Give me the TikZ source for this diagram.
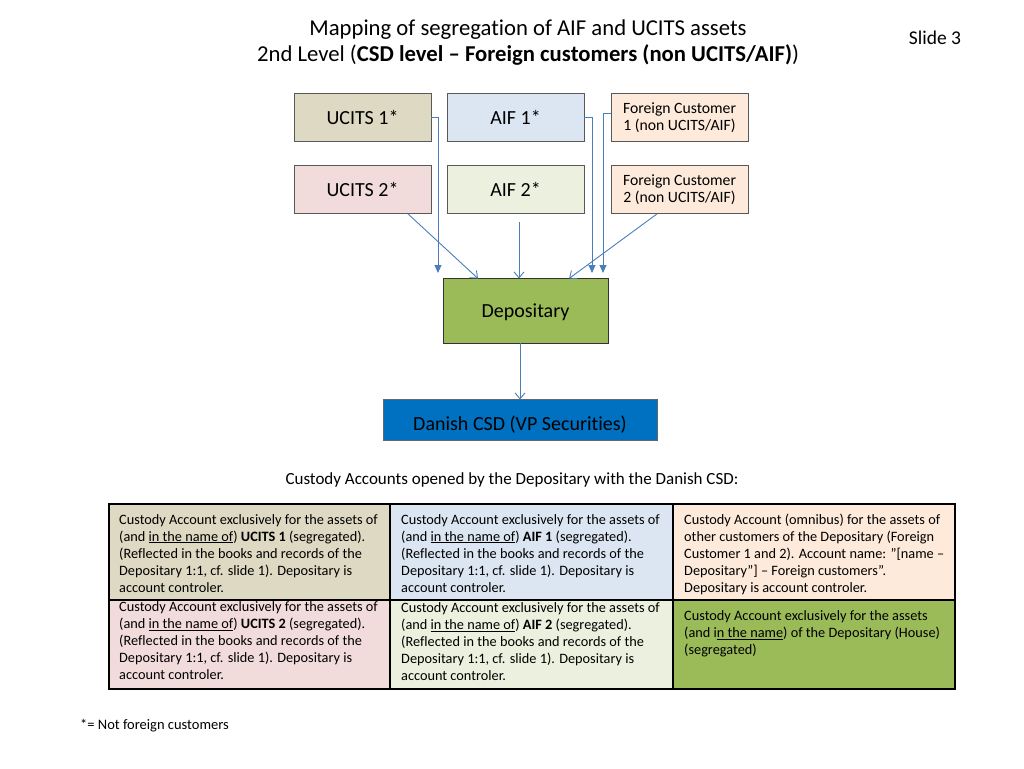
\documentclass[tikz,border=0pt]{standalone}
\usepackage{fontspec}
\setmainfont{Carlito}[Ligatures={NoCommon}]
\usetikzlibrary{arrows.meta}
\definecolor{cUa}{HTML}{DDD9C3}
\definecolor{cAa}{HTML}{DCE6F2}
\definecolor{cFc}{HTML}{FDEADA}
\definecolor{cUb}{HTML}{F2DCDB}
\definecolor{cAb}{HTML}{EBF1DE}
\definecolor{cGr}{HTML}{9BBB59}
\definecolor{cCsd}{HTML}{0070C0}
\definecolor{cLine}{HTML}{4A7EBB}
\tikzset{
  box/.style={draw=black!65, line width=0.8pt, minimum width=137pt, minimum height=48pt, inner sep=0pt, align=center, font=\fontsize{20}{22}\selectfont},
  fbox/.style={box, font=\fontsize{15.7}{16.5}\selectfont},
  conn/.style={draw=cLine, line width=0.9pt},
  filledtip/.style={conn, -{Triangle[length=8pt,width=7pt]}},
  opentip/.style={conn, -{Straight Barb[length=6pt,width=10pt]}},
  cell/.style={draw=black, line width=2.6pt},
  celltext/.style={anchor=north west, inner sep=0pt, align=left, font=\fontsize{14.3}{17}\selectfont},
}
\begin{document}
\begin{tikzpicture}[x=1pt,y=-1pt]
\useasboundingbox (0,0) rectangle (1024,768);
% title
\node[font=\fontsize{22.7}{26}\selectfont, align=center] (title) at (528,43) {Mapping of segregation of AIF and UCITS assets\\2nd Level (\textbf{CSD level -- Foreign customers (non UCITS/AIF)})};
\node[font=\fontsize{19.5}{22}\selectfont] (slide) at (935,38) {Slide 3};
% top boxes
\node[box, fill=cUa] (u1) at (362.5,117) {UCITS 1*};
\node[box, fill=cAa] (a1) at (515.5,117.5) {AIF 1*};
\node[fbox, fill=cFc] (f1) at (679.5,117.5) {Foreign Customer\\1 (non UCITS/AIF)};
\node[box, fill=cUb] (u2) at (362.5,189.5) {UCITS 2*};
\node[box, fill=cAb] (a2) at (515.5,189.5) {AIF 2*};
\node[fbox, fill=cFc] (f2) at (679.5,189.5) {Foreign Customer\\2 (non UCITS/AIF)};
\node[draw=black!80, line width=0.9pt, fill=cGr, minimum width=165pt, minimum height=65pt, inner sep=0pt, text height=14pt, text depth=0pt, font=\fontsize{20}{22}\selectfont] (dep) at (525.5,310.5) {Depositary};
\node[draw=black!60, line width=0.9pt, fill=cCsd, minimum width=274pt, minimum height=41pt, inner sep=0pt, text height=22pt, text depth=0pt, font=\fontsize{20}{22}\selectfont] (csd) at (520,419.5) {Danish CSD (VP Securities)};
% connectors
\coordinate (t1) at (438,273);
\coordinate (t2) at (592,273);
\coordinate (t3) at (603,273);
\coordinate (a2s) at (519,222);
\draw[filledtip] (u1.east) -| (t1);
\draw[filledtip] (a1.east) -| (t2);
\draw[filledtip] ([yshift=4.5pt]f1.west) -| (t3);
\draw[opentip] ([xshift=45.5pt]u2.south) -- ([xshift=-47.5pt,yshift=-1pt]dep.north);
\draw[opentip] (a2s) -- ([yshift=-1pt]dep.north -| a2s);
\draw[opentip] ([xshift=-22.5pt]f2.south) -- ([xshift=43.5pt,yshift=-1pt]dep.north);
\draw[opentip] (csd.north |- dep.south) -- ([yshift=-1pt]csd.north);
% caption
\node[font=\fontsize{17}{19}\selectfont] (cap) at (512,480) {Custody Accounts opened by the Depositary with the Danish CSD:};
% table cells
\path[cell, fill=cUa] (109,504) rectangle (390,600);
\path[cell, fill=cAa] (390,504) rectangle (673,600);
\path[cell, fill=cFc] (673,504) rectangle (955,600);
\path[cell, fill=cUb] (109,600) rectangle (390,689);
\path[cell, fill=cAb] (390,600) rectangle (673,689);
\path[cell, fill=cGr] (673,600) rectangle (955,689);
\node[celltext] (x11) at (119,514) {Custody Account exclusively for the assets of\\(and \underline{in the name of}) \textbf{UCITS 1} (segregated).\\(Reflected in the books and records of the\\Depositary 1:1, cf. slide 1). Depositary is\\account controler.};
\node[celltext] (x12) at (401,514) {Custody Account exclusively for the assets of\\(and \underline{in the name of}) \textbf{AIF 1} (segregated).\\(Reflected in the books and records of the\\Depositary 1:1, cf. slide 1). Depositary is\\account controler.};
\node[celltext] (x13) at (684,514) {Custody Account (omnibus) for the assets of\\other customers of the Depositary (Foreign\\Customer 1 and 2). Account name: ”[name --\\Depositary”] -- Foreign customers”.\\Depositary is account controler.};
\node[celltext] (x21) at (119,601.8) {Custody Account exclusively for the assets of\\(and \underline{in the name of}) \textbf{UCITS 2} (segregated).\\(Reflected in the books and records of the\\Depositary 1:1, cf. slide 1). Depositary is\\account controler.};
\node[celltext] (x22) at (401,602.8) {Custody Account exclusively for the assets of\\(and \underline{in the name of}) \textbf{AIF 2} (segregated).\\(Reflected in the books and records of the\\Depositary 1:1, cf. slide 1). Depositary is\\account controler.};
\node[celltext] (x23) at (684,610.8) {Custody Account exclusively for the assets\\(and i\underline{n the name}) of the Depositary (House)\\(segregated)};
% footnote
\node[anchor=west, inner sep=0pt, font=\fontsize{14.5}{16}\selectfont] (foot) at (80,726) {*= Not foreign customers};
\end{tikzpicture}
\end{document}
